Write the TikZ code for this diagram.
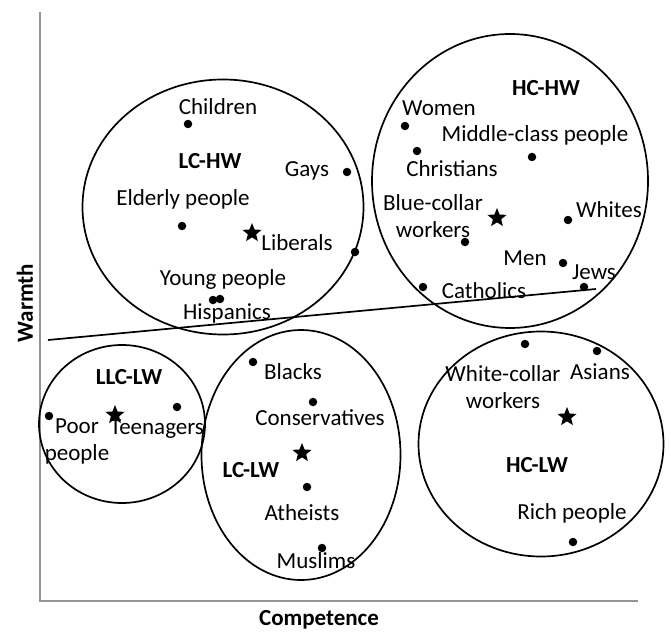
\documentclass[tikz,border=0pt]{standalone}
\usepackage{fontspec}
\setmainfont{Carlito}
\usetikzlibrary{shapes.geometric}
\begin{document}
\begin{tikzpicture}[x=1pt,y=-1pt,
  every node/.style={font=\fontsize{23}{27}\selectfont},
  grp/.style={draw, line width=1.7pt, ellipse, inner sep=0pt},
  dot/.style={circle, fill=black, inner sep=0pt, minimum size=8.5pt},
  centre/.style={star, star points=5, star point ratio=2.3, fill=black, inner sep=0pt, minimum size=20pt},
  lbl/.style={inner sep=0pt, align=center},
  glbl/.style={inner sep=0pt, font=\fontsize{23}{27}\selectfont\bfseries},
  axis/.style={draw=black!42, line width=2pt}]
\useasboundingbox (0,0) rectangle (671,631);
% axes
\coordinate (o) at (40,601);
\coordinate (ytop) at (40,12);
\coordinate (xend) at (638,601);
\draw[axis] (ytop) -- (o) -- (xend);
\node[glbl, rotate=90] (warmth) at (25,303) {Warmth};
\node[glbl] (comp) at (319,620) {Competence};
% divider
\coordinate (la) at (48,340);
\coordinate (lb) at (596,289);
\draw[line width=1.7pt] (la) -- (lb);
% groups
\node[grp, minimum width=281pt, minimum height=255pt] (e1) at (223,207) {};
\node[grp, minimum width=276pt, minimum height=294pt] (e2) at (510,181) {};
\node[grp, minimum width=166pt, minimum height=158pt] (e3) at (122,424) {};
\node[grp, minimum width=199pt, minimum height=250pt] (e4) at (301,455) {};
\node[grp, minimum width=245pt, minimum height=225pt] (e5) at (541,444) {};
% LC-HW
\node[glbl] (g1) at (210,161) {LC-HW};
\node[dot] (d1) at (188,124) {}; \node[lbl] (t1) at (218,107) {Children};
\node[dot] (d2) at (347,172) {}; \node[lbl] (t2) at (307,171) {Gays};
\node[dot] (d3) at (182,226) {}; \node[lbl] (t3) at (183,199) {Elderly people};
\node[centre] (s1) at (252,233) {}; \node[lbl] (t4) at (297,243) {Liberals};
\node[dot] (d4) at (355,252) {};
\node[lbl] (t5) at (223,279) {Young people};
\node[dot] (d5) at (213,300) {}; \node[dot] (d6) at (220,299) {};
\node[lbl] (t6) at (227,313) {Hispanics};
% HC-HW
\node[glbl] (g2) at (546,88) {HC-HW};
\node[dot] (d7) at (405,126) {}; \node[lbl] (t7) at (439,108) {Women};
\node[dot] (d8) at (532,157) {}; \node[lbl] (t8) at (535,135) {Middle-class people};
\node[dot] (d9) at (417,151) {}; \node[lbl] (t9) at (452,169) {Christians};
\node[lbl] (t10) at (433,216) {Blue-collar\\workers};
\node[dot] (d10) at (465,242) {};
\node[centre] (s2) at (497,218) {};
\node[dot] (d11) at (568,220) {}; \node[lbl] (t11) at (609,210) {Whites};
\node[dot] (d12) at (563,263) {}; \node[lbl] (t12) at (525,258) {Men};
\node[dot] (d13) at (584,287) {}; \node[lbl] (t13) at (594,272) {Jews};
\node[dot] (d14) at (423,287) {}; \node[lbl] (t14) at (484,291) {Catholics};
% LLC-LW
\node[glbl] (g3) at (129,377) {LLC-LW};
\node[dot] (d15) at (49,416) {}; \node[lbl] (t15) at (77,441) {Poor\\people};
\node[centre] (s3) at (115,415) {};
\node[dot] (d16) at (177,407) {}; \node[lbl] (t16) at (157,429) {Teenagers};
% LC-LW
\node[dot] (d17) at (253,362) {}; \node[lbl] (t17) at (293,372) {Blacks};
\node[dot] (d18) at (313,402) {}; \node[lbl] (t18) at (320,418) {Conservatives};
\node[centre] (s4) at (302,453) {};
\node[glbl] (g4) at (251,470) {LC-LW};
\node[dot] (d19) at (307,487) {}; \node[lbl] (t19) at (302,513) {Atheists};
\node[dot] (d20) at (322,548) {}; \node[lbl] (t20) at (316,561) {Muslims};
% HC-LW
\node[dot] (d21) at (525,344) {}; \node[lbl] (t21) at (503,387) {White-collar\\workers};
\node[dot] (d22) at (597,351) {}; \node[lbl] (t22) at (600,372) {Asians};
\node[centre] (s5) at (567,417) {};
\node[glbl] (g5) at (537,465) {HC-LW};
\node[lbl] (t23) at (572,513) {Rich people};
\node[dot] (d23) at (573,542) {};
\end{tikzpicture}
\end{document}
